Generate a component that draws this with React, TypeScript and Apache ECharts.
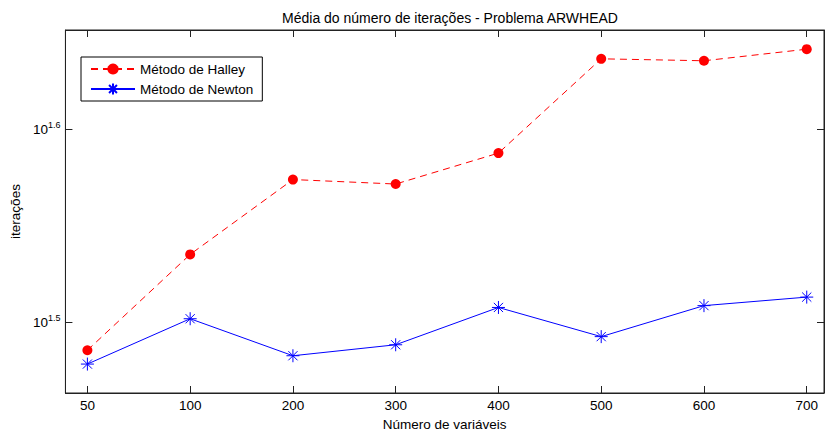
import React, { useEffect, useRef } from "react";
import * as echarts from "echarts";

const categories = ["50", "100", "200", "300", "400", "500", "600", "700"];
const halley = [30.6, 34.3, 37.5, 37.3, 38.7, 43.3, 43.2, 43.8];
const newton = [30.1, 31.77, 30.4, 30.8, 32.2, 31.1, 32.27, 32.6];
const yTickExponents = [1.5, 1.6];

const FONT = "Liberation Sans, Arial, sans-serif";
const FS = 13.5;

export default function App() {
  const ref = useRef<HTMLDivElement>(null);
  useEffect(() => {
    if (!ref.current) return;
    const chart = echarts.init(ref.current, null, { renderer: "svg" });
    const idx = categories.map((_, i) => i);
    const toPts = (arr: number[]) => arr.map((v, i) => [i, Math.log10(v)]);
    const axisColor = "#222";
    const asterisk =
      "path://M0,-6L0,6M-6,0L6,0M-4.24,-4.24L4.24,4.24M-4.24,4.24L4.24,-4.24";
    const yLabelRich = {
      b: { fontSize: FS, fontFamily: FONT, color: "#000" },
      s: { fontSize: 9, fontFamily: FONT, color: "#000", padding: [0, 0, 9, 0] },
    };
    const tickStyle = { color: axisColor, width: 1 };
    chart.setOption({
      animation: false,
      backgroundColor: "#fff",
      textStyle: { fontFamily: FONT },
      title: {
        text: "Média do número de iterações - Problema ARWHEAD",
        left: 445,
        textAlign: "center",
        top: 6,
        textStyle: { fontSize: 14, fontWeight: "normal", color: "#000", fontFamily: FONT },
      },
      legend: {
        orient: "vertical",
        left: 81,
        top: 57,
        padding: [5, 9, 5, 9],
        itemGap: 6,
        itemWidth: 44,
        itemHeight: 14,
        borderColor: "#000",
        borderWidth: 1,
        backgroundColor: "#fff",
        textStyle: { fontSize: FS, color: "#000", fontFamily: FONT },
        data: ["Método de Halley", "Método de Newton"],
      },
      grid: {
        left: 64,
        right: 1,
        top: 30,
        bottom: 39,
        containLabel: false,
        show: true,
        borderColor: axisColor,
        borderWidth: 1,
        backgroundColor: "transparent",
      },
      xAxis: [
        {
          type: "value",
          min: -0.2138,
          max: 7.168,
          name: "Número de variáveis",
          nameLocation: "middle",
          nameGap: 24,
          nameTextStyle: { fontSize: FS, color: "#000", fontFamily: FONT },
          axisLine: { show: true, onZero: false, lineStyle: { color: axisColor } },
          axisTick: { show: true, inside: true, length: 7, customValues: idx, lineStyle: tickStyle },
          axisLabel: {
            customValues: idx,
            formatter: (v: number) => categories[Math.round(v)] ?? "",
            fontSize: FS,
            color: "#000",
            margin: 5,
            fontFamily: FONT,
          },
          splitLine: { show: false },
        },
        {
          type: "value",
          position: "top",
          min: -0.2138,
          max: 7.168,
          axisLine: { show: true, onZero: false, lineStyle: { color: axisColor } },
          axisTick: { show: true, inside: true, length: 7, customValues: idx, lineStyle: tickStyle },
          axisLabel: { show: false },
          splitLine: { show: false },
        },
      ],
      yAxis: [
        {
          type: "value",
          min: 1.4636,
          max: 1.6514,
          name: "iterações",
          nameLocation: "middle",
          nameRotate: 90,
          nameGap: 42,
          nameTextStyle: { fontSize: FS, color: "#000", fontFamily: FONT },
          axisLine: { show: true, onZero: false, lineStyle: { color: axisColor } },
          axisTick: { show: true, inside: true, length: 7, customValues: yTickExponents, lineStyle: tickStyle },
          axisLabel: {
            customValues: yTickExponents,
            formatter: (v: number) => `{b|10}{s|${v.toFixed(1)}}`,
            rich: yLabelRich,
            margin: 5,
          },
          splitLine: { show: false },
        },
        {
          type: "value",
          position: "right",
          min: 1.4636,
          max: 1.6514,
          axisLine: { show: true, onZero: false, lineStyle: { color: axisColor } },
          axisTick: { show: true, inside: true, length: 7, customValues: yTickExponents, lineStyle: tickStyle },
          axisLabel: { show: false },
          splitLine: { show: false },
        },
      ],
      series: [
        {
          name: "Método de Halley",
          type: "line",
          data: toPts(halley),
          symbol: "circle",
          symbolSize: 10,
          itemStyle: { color: "#ff0000" },
          lineStyle: { color: "#ff0000", width: 1, type: [7, 5] },
        },
        {
          name: "Método de Newton",
          type: "line",
          data: toPts(newton),
          symbol: asterisk,
          symbolSize: 13,
          itemStyle: { color: "#0000ff", borderColor: "#0000ff", borderWidth: 1 },
          lineStyle: { color: "#0000ff", width: 1 },
        },
      ],
    });
    return () => chart.dispose();
  }, []);
  return (
    <div
      ref={ref}
      style={{ position: "fixed", left: 0, top: 0, width: 825, height: 436, background: "#fff" }}
    />
  );
}
